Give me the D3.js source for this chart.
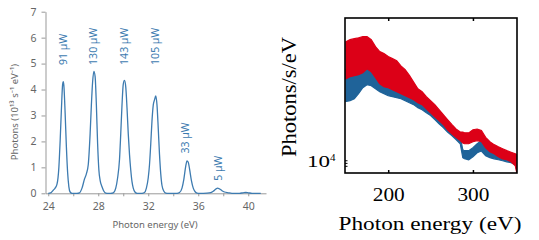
<!DOCTYPE html>
<html>
<head>
<meta charset="utf-8">
<script src="https://cdnjs.cloudflare.com/ajax/libs/d3/7.8.5/d3.min.js"></script>
<style>
  body { margin: 0; background: #fff; }
  svg { display: block; }
</style>
</head>
<body>
<div class="chart"></div>
<script>
const width = 539;
const height = 240;

// ---- left panel: harmonic spectrum ----
const energy = [24.0, 24.2, 24.4, 24.55, 24.7, 24.85, 24.95, 25.05, 25.15, 25.2, 25.25, 25.35, 25.45, 25.55, 25.65, 25.75, 25.9,
  26.3, 26.5, 26.7, 26.9, 27.05, 27.2, 27.35, 27.45, 27.55, 27.65, 27.75, 27.85, 27.95, 28.05, 28.15, 28.3, 28.45, 28.6, 28.8,
  29.0, 29.2, 29.4, 29.55, 29.7, 29.8, 29.9, 30.0, 30.1, 30.2, 30.3, 30.4, 30.5, 30.6, 30.7, 30.8, 30.95, 31.1,
  31.5, 31.7, 31.85, 32.0, 32.1, 32.2, 32.3, 32.4, 32.5, 32.6, 32.7, 32.8, 32.9, 33.0, 33.1, 33.25, 33.4, 33.6,
  34.3, 34.5, 34.7, 34.85, 35.0, 35.1, 35.2, 35.3, 35.45, 35.6, 35.75, 35.9, 36.1,
  36.7, 37.0, 37.2, 37.4, 37.55, 37.7, 37.9, 38.1, 38.4, 38.7, 39.3, 39.6, 39.8, 40.0, 40.3, 41.0];
const photons = [0, 0.02, 0.12, 0.2, 0.35, 1.0, 2.0, 3.2, 4.2, 4.3, 4.15, 3.1, 1.8, 0.8, 0.25, 0.05, 0,
  0, 0.02, 0.2, 0.55, 0.75, 1.1, 2.3, 3.4, 4.3, 4.7, 4.5, 3.4, 1.9, 0.9, 0.5, 0.25, 0.08, 0.01, 0,
  0, 0.02, 0.2, 0.6, 1.3, 2.3, 3.4, 4.2, 4.35, 4.1, 3.3, 2.3, 1.5, 0.9, 0.45, 0.2, 0.04, 0,
  0, 0.03, 0.2, 0.6, 1.1, 1.9, 2.8, 3.4, 3.6, 3.75, 3.4, 2.5, 1.5, 0.75, 0.3, 0.08, 0.01, 0,
  0, 0.03, 0.2, 0.55, 1.05, 1.25, 1.2, 0.95, 0.5, 0.2, 0.06, 0.01, 0,
  0.01, 0.03, 0.08, 0.16, 0.2, 0.17, 0.1, 0.05, 0.02, 0, 0, 0.02, 0.03, 0.02, 0, 0];

const peakEnergy = [25.2, 27.6, 30.1, 32.55, 34.95, 37.6];
const peakHeight = [4.3, 4.7, 4.35, 3.75, 1.25, 0.2];
const peakLabels = ["91 µW", "130 µW", "143 µW", "105 µW", "33 µW", "5 µW"];

const xTicksL = [24, 26, 28, 30, 32, 34, 36, 38, 40];
const xLabelsL = [24, 28, 32, 36, 40];
const yTicksL = [0, 1, 2, 3, 4, 5, 6, 7];

// ---- right panel: broadband spectrum (photons/s/eV) ----
const specEnergy = [150, 155, 160, 165, 170, 175, 180, 185, 190, 195, 200, 205, 210, 215, 220, 225, 230, 235, 240,
  245, 250, 255, 260, 265, 270, 275, 280, 285, 288, 290, 295, 300, 305, 310, 315, 320, 325, 330, 335, 340, 345, 350, 352];
const redHigh = [1.16e6, 1.26e6, 1.31e6, 1.36e6, 1.42e6, 1.42e6, 1.26e6, 9.5e5, 7.8e5, 7.2e5, 6.4e5, 5.9e5, 5.4e5, 4.4e5,
  3.8e5, 3.0e5, 2.3e5, 1.76e5, 1.56e5, 1.28e5, 1.09e5, 9.3e4, 7.6e4, 6.2e4, 5.1e4, 4.2e4, 3.5e4, 3.1e4, 3.1e4, 3.0e4,
  3.0e4, 3.4e4, 3.5e4, 3.3e4, 2.5e4, 2.1e4, 1.87e4, 1.72e4, 1.59e4, 1.47e4, 1.38e4, 1.3e4, 1.25e4];
const redLow = [2.63e5, 2.85e5, 2.97e5, 3.09e5, 3.35e5, 3.93e5, 3.48e5, 2.74e5, 2.15e5, 1.91e5, 1.83e5, 1.69e5, 1.56e5,
  1.44e5, 1.33e5, 1.23e5, 1.13e5, 1.0e5, 9.3e4, 7.9e4, 6.7e4, 5.7e4, 4.9e4, 4.2e4, 3.4e4, 2.9e4, 2.5e4, 2.2e4, 2.0e4,
  1.94e4, 1.94e4, 2.1e4, 2.2e4, 2.1e4, 1.65e4, 1.41e4, 1.3e4, 1.15e4, 1.06e4, 1.02e4, 9.4e3, 8.0e3, 5.8e3];
const blueHigh = [3.78e5, 4.09e5, 4.43e5, 4.8e5, 5.2e5, 5.64e5, 4.8e5, 3.78e5, 2.97e5, 2.53e5, 2.33e5, 2.15e5, 1.99e5,
  1.83e5, 1.69e5, 1.5e5, 1.33e5, 1.18e5, 1.05e5, 9.3e4, 8.2e4, 7.0e4, 6.0e4, 5.1e4, 4.3e4, 3.7e4, 3.1e4, 2.6e4, 1.53e4,
  1.47e4, 1.47e4, 1.65e4, 1.94e4, 2.2e4, 1.8e4, 1.5e4, 1.38e4, 1.25e4, 1.15e4, 1.1e4, 1.05e4, 9.6e3, 9.0e3];
const blueLow = [1.05e5, 1.09e5, 1.18e5, 1.44e5, 1.83e5, 2.07e5, 1.99e5, 1.76e5, 1.56e5, 1.44e5, 1.33e5, 1.28e5, 1.23e5,
  1.18e5, 1.09e5, 1.0e5, 9.3e4, 8.2e4, 7.6e4, 6.7e4, 6.0e4, 5.1e4, 4.3e4, 3.7e4, 3.1e4, 2.7e4, 2.3e4, 1.94e4, 1.11e4,
  1.06e4, 1.02e4, 1.15e4, 1.35e4, 1.45e4, 1.2e4, 1.11e4, 1.06e4, 1.02e4, 9.8e3, 9.4e3, 9.1e3, 8.4e3, 6.3e3];

const xTicksR = [200, 300];
const yMinorR = [8000, 9000, 10000];

const svg = d3.select(".chart").append("svg")
  .attr("width", width)
  .attr("height", height);

/* ========== Left panel ========== */
const sans = "'Noto Sans', 'Open Sans', sans-serif";
const grey = "#999";
const lineBlue = "#3d7bb0";

const xL = d3.scaleLinear().domain([23.78, 41.42]).range([45.5, 266]);
const yL = d3.scaleLinear().domain([0, 7]).range([193.3, 11.7]);

const gyL = svg.append("g")
  .attr("transform", "translate(45.5,0)")
  .call(d3.axisLeft(yL).tickValues(yTicksL).tickFormat(d3.format("d"))
    .tickSize(4).tickSizeOuter(0).tickPadding(5));
const gxL = svg.append("g")
  .attr("transform", "translate(0,193.3)")
  .call(d3.axisBottom(xL).tickValues(xTicksL).tickSize(3).tickSizeOuter(0).tickPadding(6)
    .tickFormat(d => xLabelsL.includes(d) ? d : ""));

[gyL, gxL].forEach(g => {
  g.select(".domain").attr("stroke", grey);
  g.selectAll(".tick line").attr("stroke", grey);
  g.selectAll(".tick text").attr("fill", "#666").style("font-family", sans).style("font-size", "10.5px");
});

svg.append("text")
  .attr("transform", "translate(18,112) rotate(-90)")
  .attr("text-anchor", "middle")
  .attr("fill", "#666")
  .style("font-family", sans)
  .style("font-size", "9.5px")
  .text("Photons (10¹³ s⁻¹ eV⁻¹)");

svg.append("text")
  .attr("x", 155).attr("y", 228)
  .attr("text-anchor", "middle")
  .attr("fill", "#666")
  .style("font-family", sans)
  .style("font-size", "9.5px")
  .text("Photon energy (eV)");

const lineL = d3.line()
  .x((d, i) => xL(energy[i]))
  .y(d => yL(d))
  .curve(d3.curveMonotoneX);

svg.append("path")
  .datum(photons)
  .attr("d", lineL)
  .attr("fill", "none")
  .attr("stroke", lineBlue)
  .attr("stroke-width", 1.3);

svg.append("g").selectAll("text")
  .data(peakLabels)
  .join("text")
  .attr("transform", (d, i) => {
    const base = peakHeight[i] >= 3 ? 4.95 : peakHeight[i] + 0.28;
    return `translate(${xL(peakEnergy[i])},${yL(base)}) rotate(-90)`;
  })
  .attr("dy", "0.35em")
  .attr("fill", lineBlue)
  .style("font-family", sans)
  .style("font-size", "10.5px")
  .text(d => d);

/* ========== Right panel ========== */
const serif = "'Liberation Serif', 'Times New Roman', serif";
const x0 = 345, x1 = 517, y0 = 18, y1 = 173;

const xR = d3.scaleLinear().domain([149, 352]).range([x0, x1]);
const yR = d3.scaleLog().domain([6000, 3e6]).range([y1, y0]);

svg.append("clipPath").attr("id", "plotR")
  .append("rect").attr("x", x0).attr("y", y0).attr("width", x1 - x0).attr("height", y1 - y0);

const plot = svg.append("g").attr("clip-path", "url(#plotR)");

const bandBlue = d3.area()
  .x((d, i) => xR(specEnergy[i]))
  .y0((d, i) => yR(blueLow[i]))
  .y1((d, i) => yR(blueHigh[i]));
const bandRed = d3.area()
  .x((d, i) => xR(specEnergy[i]))
  .y0((d, i) => yR(redLow[i]))
  .y1((d, i) => yR(redHigh[i]));

plot.append("path").datum(specEnergy).attr("d", bandBlue)
  .attr("fill", "#1f6399").attr("stroke", "#1f6399").attr("stroke-width", 1.2);
plot.append("path").datum(specEnergy).attr("d", bandRed)
  .attr("fill", "#dc0017").attr("stroke", "#dc0017").attr("stroke-width", 1.2);

// inward ticks
svg.append("g").attr("transform", `translate(0,${y1})`)
  .call(d3.axisBottom(xR).tickValues(xTicksR).tickSizeInner(-3).tickSizeOuter(0).tickPadding(15))
  .call(g => g.select(".domain").remove())
  .call(g => g.selectAll(".tick line").attr("stroke", "#000").attr("stroke-width", 1.5))
  .call(g => g.selectAll(".tick text").attr("fill", "#000")
    .style("font-family", serif).style("font-size", "18px")
    .attr("textLength", 32).attr("lengthAdjust", "spacingAndGlyphs"));

svg.append("g").attr("transform", `translate(0,${y0})`)
  .call(d3.axisTop(xR).tickValues(xTicksR).tickSizeInner(-3).tickSizeOuter(0).tickFormat(""))
  .call(g => g.select(".domain").remove())
  .call(g => g.selectAll(".tick line").attr("stroke", "#000").attr("stroke-width", 1.5));

svg.append("g").attr("transform", `translate(${x0},0)`)
  .call(d3.axisLeft(yR).tickValues(yMinorR).tickSizeInner(-2.5).tickSizeOuter(0).tickFormat(""))
  .call(g => g.select(".domain").remove())
  .call(g => g.selectAll(".tick line").attr("stroke", "#000").attr("stroke-width", 1));

svg.append("rect")
  .attr("x", x0).attr("y", y0)
  .attr("width", x1 - x0).attr("height", y1 - y0)
  .attr("fill", "none")
  .attr("stroke", "#000")
  .attr("stroke-width", 1.6);

// 10^4 label
const t4 = svg.append("text")
  .attr("x", 307).attr("y", yR(10000) + 7)
  .attr("fill", "#000")
  .style("font-family", serif)
  .style("font-size", "16px");
t4.append("tspan").attr("textLength", 23).attr("lengthAdjust", "spacingAndGlyphs").text("10");
t4.append("tspan").attr("dy", -6).style("font-size", "11px").text("4");

svg.append("text")
  .attr("transform", "translate(296,97) rotate(-90)")
  .attr("text-anchor", "middle")
  .attr("fill", "#000")
  .style("font-family", serif)
  .style("font-size", "21px")
  .attr("textLength", 120).attr("lengthAdjust", "spacingAndGlyphs")
  .text("Photons/s/eV");

svg.append("text")
  .attr("x", 430).attr("y", 230)
  .attr("text-anchor", "middle")
  .attr("fill", "#000")
  .style("font-family", serif)
  .style("font-size", "19px")
  .attr("textLength", 183).attr("lengthAdjust", "spacingAndGlyphs")
  .text("Photon energy (eV)");
</script>
</body>
</html>
